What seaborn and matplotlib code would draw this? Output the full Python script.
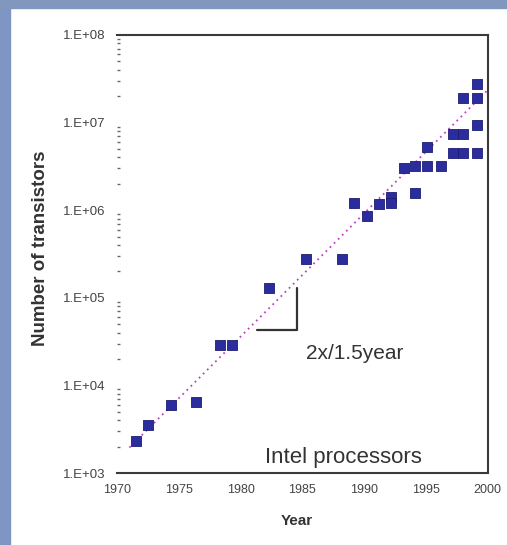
import numpy as np
import pandas as pd
import matplotlib
matplotlib.use("Agg")
import matplotlib.pyplot as plt
from matplotlib.patches import Rectangle
from matplotlib.ticker import LogLocator, NullFormatter
import seaborn as sns

# -----------------------------
years = [1971.5, 1972.5, 1974.4, 1976.4, 1978.3, 1979.3, 1982.3, 1985.3, 1988.2,
         1989.2, 1990.2, 1991.2, 1992.2, 1992.2, 1993.2, 1994.1, 1994.1, 1995.1,
         1995.1, 1996.2, 1997.2, 1997.2, 1998.0, 1998.0, 1998.0, 1999.1, 1999.1,
         1999.1, 1999.1]
transistors = [2300, 3500, 5900, 6500, 29000, 29000, 131000, 275000, 275000,
               1200000, 860000, 1180000, 1420000, 1200000, 3000000, 3200000, 1570000,
               3200000, 5300000, 3200000, 7400000, 4500000, 19000000, 7400000, 4500000,
               27600000, 19000000, 9400000, 4500000]

trend_years = [1971.0, 2000.0]
trend_counts = [1950, 23500000]

bracket_years = [1981.3, 1984.6, 1984.6]
bracket_counts = [42900, 42900, 130000]

x_ticks = [1970, 1975, 1980, 1985, 1990, 1995, 2000]
y_ticks = [1e3, 1e4, 1e5, 1e6, 1e7, 1e8]
y_labels = ["1.E+03", "1.E+04", "1.E+05", "1.E+06", "1.E+07", "1.E+08"]

df = pd.DataFrame({"Year": years, "Transistors": transistors})

# -----------------------------
sns.set_style("white")
plt.rcParams["font.family"] = ["Liberation Sans", "DejaVu Sans"]

fig = plt.figure(figsize=(5.07, 5.45), dpi=100)
fig.patch.set_facecolor("white")
fig.patches.append(Rectangle((0, 0), 10 / 507, 1, transform=fig.transFigure,
                             color="#7f95c4", zorder=0))
fig.patches.append(Rectangle((0, 1 - 8 / 545), 1, 8 / 545, transform=fig.transFigure,
                             color="#8197be", zorder=0))

ax = fig.add_axes([0.2308, 0.1321, 0.7312, 0.8037])
ax.set_yscale("log")

ax.plot(trend_years, trend_counts, color="#c040c8", lw=1.3,
        linestyle=(0, (1, 2.2)), zorder=2)
ax.plot(bracket_years, bracket_counts, color="#333333", lw=1.6, zorder=2)

sns.scatterplot(data=df, x="Year", y="Transistors", marker="s", s=62,
                color="#2b2d9e", edgecolor="#1c1d70", linewidth=0.6,
                ax=ax, zorder=3, legend=False)

ax.set_xlim(1970, 2000)
ax.set_ylim(1e3, 1e8)
ax.set_xticks(x_ticks)
ax.set_xticklabels([str(v) for v in x_ticks], fontsize=9, color="#444444")
ax.set_yticks(y_ticks)
ax.set_yticklabels(y_labels, fontsize=9.5, color="#444444")
ax.yaxis.set_minor_locator(LogLocator(base=10, subs=np.arange(2, 10), numticks=20))
ax.yaxis.set_minor_formatter(NullFormatter())
ax.tick_params(axis="both", which="major", direction="in", length=5,
               width=1.2, color="#444444", pad=8)
ax.tick_params(axis="y", which="minor", direction="in", length=2.5,
               width=1.0, color="#666666", left=True)
ax.set_xlabel("")
ax.set_ylabel("")

for side in ["top", "right", "bottom"]:
    ax.spines[side].set_color("#3a3a3a")
    ax.spines[side].set_linewidth(1.5)
ax.spines["left"].set_visible(False)

ax.text(1985.3, 10 ** 4.36, "2x/1.5year", fontsize=15, color="#333333",
        ha="left", va="center")
ax.text(1982.0, 10 ** 3.18, "Intel processors", fontsize=16, color="#333333",
        ha="left", va="center")

fig.text(0.079, 0.545, "Number of transistors", rotation=90, fontsize=13.5,
         fontweight="bold", color="#333333", ha="center", va="center")
fig.text(0.586, 0.044, "Year", fontsize=11, fontweight="bold",
         color="#333333", ha="center", va="center")

fig.savefig("out.png", dpi=100, facecolor=fig.get_facecolor())
